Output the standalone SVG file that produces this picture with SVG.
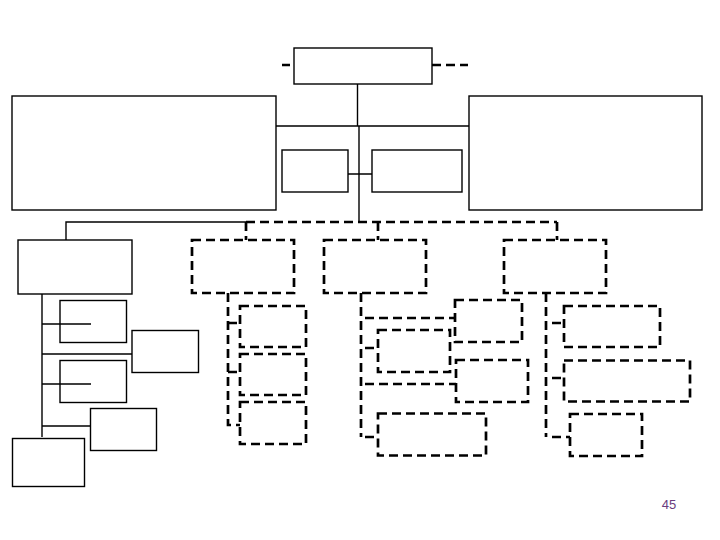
<svg xmlns="http://www.w3.org/2000/svg" width="720" height="540" viewBox="0 0 720 540">
<style>
.s{fill:none;stroke:#000;stroke-width:1.4}
.d{fill:none;stroke:#000;stroke-width:2.7;stroke-dasharray:9 5}
.n rect{fill:#fff}
</style>
<rect width="720" height="540" fill="#fff"/>
<g id="connectors">
<path class="s" d="M357.5 84V126M276 126H469M359 126V222M348 174H372"/>
<path class="s" d="M246 222H66V240"/>
<path class="s" d="M42 294V437M42 324H91M42 354H132M42 384H91M42 426H90"/>
<path class="d" d="M282 65H290M432 65H468"/>
<path class="d" d="M246 222H557M246 222V240M378 222V240M557 222V240"/>
<path class="d" d="M228 293V425H240M228 323H240M228 372H240"/>
<path class="d" d="M361 293V437M365 318H455M365 348H378M365 384H456M365 437H378"/>
<path class="d" d="M546 293V437M552 323H564M552 378H564M552 437H570"/>
</g>
<g id="top" class="n"><rect class="s" x="294" y="48" width="138" height="36"/></g>
<g id="bigLeft" class="n"><rect class="s" x="12" y="96" width="264" height="114"/></g>
<g id="bigRight" class="n"><rect class="s" x="469" y="96" width="233" height="114"/></g>
<g id="midLeft" class="n"><rect class="s" x="282" y="150" width="66" height="42"/></g>
<g id="midRight" class="n"><rect class="s" x="372" y="150" width="90" height="42"/></g>
<g id="L" class="n"><rect class="s" x="18" y="240" width="114" height="54"/></g>
<g id="L1"><rect class="s" x="60" y="300.5" width="66.5" height="42"/></g>
<g id="L2" class="n"><rect class="s" x="132" y="330.5" width="66.5" height="42"/></g>
<g id="L3"><rect class="s" x="60" y="360.5" width="66.5" height="42"/></g>
<g id="L4" class="n"><rect class="s" x="90.5" y="408.5" width="66" height="42"/></g>
<g id="L5" class="n"><rect class="s" x="12.5" y="438.5" width="72" height="48"/></g>
<g id="A" class="n"><rect class="d" x="192" y="240" width="102" height="53"/></g>
<g id="B" class="n"><rect class="d" x="324" y="240" width="102" height="53"/></g>
<g id="C" class="n"><rect class="d" x="504" y="240" width="102" height="53"/></g>
<g id="A1" class="n"><rect class="d" x="240" y="306" width="66" height="41"/></g>
<g id="A2" class="n"><rect class="d" x="240" y="354" width="66" height="41"/></g>
<g id="A3" class="n"><rect class="d" x="240" y="402" width="66" height="42"/></g>
<g id="B1" class="n"><rect class="d" x="455" y="300" width="67" height="42"/></g>
<g id="B2" class="n"><rect class="d" x="378" y="330" width="72" height="42"/></g>
<g id="B3" class="n"><rect class="d" x="456" y="360" width="72" height="42"/></g>
<g id="B4" class="n"><rect class="d" x="378" y="413.5" width="108" height="42"/></g>
<g id="C1" class="n"><rect class="d" x="564" y="306" width="96" height="41"/></g>
<g id="C2" class="n"><rect class="d" x="564" y="360.5" width="126" height="41"/></g>
<g id="C3" class="n"><rect class="d" x="570" y="414" width="72" height="42"/></g>
<text x="669" y="509" font-family="Liberation Sans, Arial, sans-serif" font-size="13" fill="#6a3d7e" text-anchor="middle">45</text>
</svg>
